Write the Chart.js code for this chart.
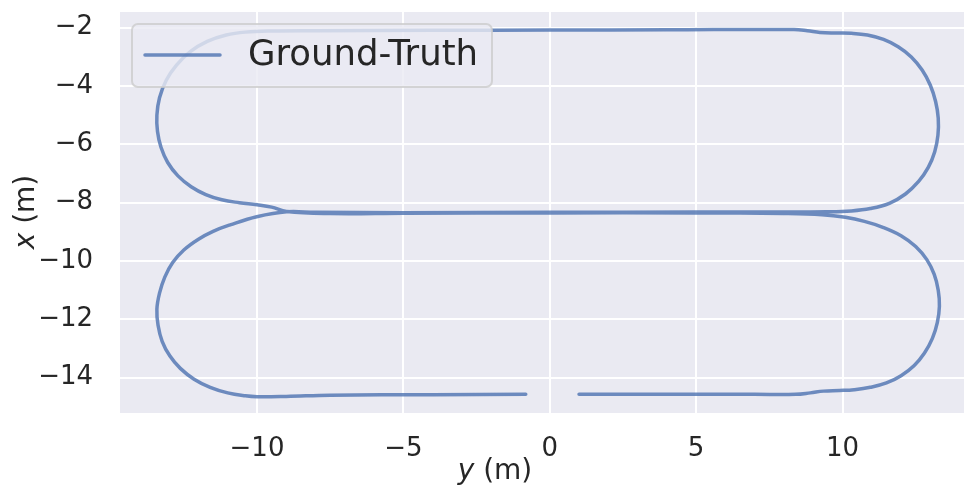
<!DOCTYPE html>
<html>
<head>
<meta charset="utf-8">
<script src="https://cdn.jsdelivr.net/npm/chart.js@4.4.1/dist/chart.umd.min.js"></script>
<style>
    html, body { margin: 0; padding: 0; background: #ffffff; }
    canvas { display: block; }
</style>
</head>
<body>
<canvas id="trajectory-chart" width="964" height="486"></canvas>
<script>
// Trajectoire vérité terrain, valeurs lues sur la figure
// gtY : axe horizontal "y (m)", gtX : axe vertical "x (m)"
const gtY = [
    // bas droite puis boucle droite inférieure
    1.0, 3.0, 5.0, 7.0, 8.4, 8.9, 9.35, 9.9, 10.4, 10.95, 11.5, 12.0, 12.45, 12.8, 13.07,
    13.24, 13.31, 13.27, 13.13, 12.88, 12.5, 12.0, 11.4, 10.75, 10.1, 9.3, 8.0,
    // ligne centrale vers la gauche
    5.0, 0.0, -5.0, -7.5, -8.99,
    // boucle gauche supérieure puis ligne du haut
    -9.5, -10.0, -10.6, -11.2, -11.75, -12.25, -12.7, -13.05, -13.28, -13.4,
    -13.42, -13.33, -13.1, -12.75, -12.28, -11.7, -11.05, -10.4, -9.5, -8.0,
    -4.0, 0.0, 4.0, 8.34,
    // boucle droite supérieure
    8.8, 9.23, 9.8, 10.3, 10.85, 11.4, 11.9, 12.35, 12.72, 13.0, 13.18,
    13.27, 13.26, 13.15, 12.93, 12.6, 12.15, 11.6, 10.95, 10.3, 9.46, 8.0,
    // ligne centrale vers la gauche
    5.0, 0.0, -5.0, -8.0, -8.99,
    // boucle gauche inférieure puis ligne du bas
    -10.01, -10.92, -11.5, -12.0, -12.5, -12.88, -13.15, -13.33, -13.42, -13.38, -13.24,
    -12.98, -12.62, -12.15, -11.6, -11.0, -10.4, -10.0, -9.0, -7.5, -4.0, -0.82
];
const gtX = [
    -14.57, -14.57, -14.57, -14.57, -14.57, -14.52, -14.46, -14.44, -14.41, -14.33, -14.18, -13.93, -13.58, -13.15, -12.65,
    -12.1, -11.55, -11.0, -10.45, -9.95, -9.5, -9.13, -8.85, -8.64, -8.5, -8.41, -8.37,
    -8.35, -8.35, -8.36, -8.37, -8.3,
    -8.15, -8.07, -8.0, -7.9, -7.72, -7.45, -7.08, -6.62, -6.1, -5.55,
    -5.0, -4.4, -3.8, -3.28, -2.82, -2.47, -2.25, -2.15, -2.11, -2.1,
    -2.09, -2.08, -2.07, -2.06,
    -2.1, -2.16, -2.18, -2.19, -2.25, -2.4, -2.65, -3.0, -3.45, -3.97, -4.53,
    -5.1, -5.68, -6.25, -6.79, -7.27, -7.7, -8.02, -8.2, -8.28, -8.31, -8.32,
    -8.32, -8.33, -8.34, -8.33, -8.31,
    -8.48, -8.76, -8.98, -9.25, -9.62, -10.05, -10.55, -11.1, -11.65, -12.2, -12.75,
    -13.25, -13.68, -14.05, -14.33, -14.52, -14.62, -14.65, -14.64, -14.6, -14.58, -14.57
];

const xTicks = [-10, -5, 0, 5, 10];
const yTicks = [-14, -12, -10, -8, -6, -4, -2];
const xRange = [-14.68, 14.15];
const yRange = [-15.21, -1.46];
const seriesLabel = 'Ground-Truth';

const TEXT_COLOR = '#262626';
const FONT = '"DejaVu Sans"';
const LINE_COLOR = 'rgba(76, 114, 176, 0.8)';

function formatTick(value) {
    return String(value).replace('-', '\u2212');
}

// Fond gris du graphique (style seaborn)
const plotBackground = {
    id: 'plotBackground',
    beforeDraw(chart) {
        const { ctx, chartArea } = chart;
        ctx.save();
        ctx.fillStyle = '#EAEAF2';
        ctx.fillRect(chartArea.left, chartArea.top, chartArea.right - chartArea.left, chartArea.bottom - chartArea.top);
        ctx.restore();
    }
};

// Titre d'axe avec la lettre en italique
function drawMathLabel(ctx, sym, rest, x, y, angle) {
    ctx.save();
    ctx.translate(x, y);
    ctx.rotate(angle);
    ctx.textBaseline = 'alphabetic';
    ctx.textAlign = 'left';
    ctx.font = 'italic 28px ' + FONT;
    const w1 = ctx.measureText(sym).width;
    ctx.font = '28px ' + FONT;
    const w2 = ctx.measureText(rest).width;
    const start = -(w1 + w2) / 2;
    ctx.font = 'italic 28px ' + FONT;
    ctx.fillText(sym, start, 0);
    ctx.font = '28px ' + FONT;
    ctx.fillText(rest, start + w1, 0);
    ctx.restore();
}

const axisTitles = {
    id: 'axisTitles',
    afterDraw(chart) {
        const ctx = chart.ctx;
        ctx.save();
        ctx.fillStyle = TEXT_COLOR;
        drawMathLabel(ctx, 'y', ' (m)', 495, 479, 0);
        drawMathLabel(ctx, 'x', ' (m)', 34, 212, -Math.PI / 2);
        ctx.restore();
    }
};

// Légende encadrée dans le coin haut gauche
const legendBox = {
    id: 'legendBox',
    afterDraw(chart) {
        const { ctx, chartArea } = chart;
        const ds = chart.data.datasets[0];
        const left = chartArea.left + 12;
        const top = chartArea.top + 12;
        const midY = top + 31;
        ctx.save();
        ctx.beginPath();
        ctx.roundRect(left, top, 360, 63, 6);
        ctx.fillStyle = 'rgba(234, 234, 242, 0.8)';
        ctx.fill();
        ctx.strokeStyle = 'rgba(204, 204, 204, 0.8)';
        ctx.lineWidth = 2;
        ctx.stroke();

        ctx.beginPath();
        ctx.moveTo(left + 13, midY);
        ctx.lineTo(left + 88, midY);
        ctx.strokeStyle = ds.borderColor;
        ctx.lineWidth = ds.borderWidth;
        ctx.lineCap = 'round';
        ctx.stroke();

        ctx.fillStyle = TEXT_COLOR;
        ctx.font = '35.5px ' + FONT;
        ctx.textAlign = 'left';
        ctx.textBaseline = 'middle';
        ctx.fillText(ds.label, left + 116, midY + 1);
        ctx.restore();
    }
};

const points = gtY.map((v, i) => ({ x: v, y: gtX[i] }));

const ctx = document.getElementById('trajectory-chart').getContext('2d');
const trajectoryChart = new Chart(ctx, {
    type: 'line',
    data: {
        datasets: [{
            label: seriesLabel,
            data: points,
            borderColor: LINE_COLOR,
            borderWidth: 3.5,
            borderCapStyle: 'round',
            borderJoinStyle: 'round',
            pointRadius: 0,
            tension: 0.4,
            fill: false
        }]
    },
    options: {
        responsive: false,
        animation: false,
        devicePixelRatio: 1,
        layout: {
            padding: { top: 12, right: 0, bottom: 0, left: 0 }
        },
        plugins: {
            legend: { display: false },
            tooltip: { enabled: false }
        },
        scales: {
            x: {
                type: 'linear',
                min: xRange[0],
                max: xRange[1],
                afterBuildTicks: scale => { scale.ticks = xTicks.map(v => ({ value: v })); },
                afterFit: scale => {
                    scale.height = 73;
                    scale.paddingLeft = 0;
                    scale.paddingRight = 0;
                },
                border: { display: false },
                grid: { color: '#ffffff', lineWidth: 2, drawTicks: false },
                ticks: {
                    color: TEXT_COLOR,
                    font: { family: 'DejaVu Sans', size: 26 },
                    padding: 21,
                    maxRotation: 0,
                    callback: formatTick
                }
            },
            y: {
                type: 'linear',
                min: yRange[0],
                max: yRange[1],
                afterBuildTicks: scale => { scale.ticks = yTicks.map(v => ({ value: v })); },
                afterFit: scale => {
                    scale.width = 120;
                    scale.paddingTop = 0;
                    scale.paddingBottom = 0;
                },
                border: { display: false },
                grid: { color: '#ffffff', lineWidth: 2, drawTicks: false },
                ticks: {
                    color: TEXT_COLOR,
                    font: { family: 'DejaVu Sans', size: 26 },
                    padding: 27,
                    callback: formatTick
                }
            }
        }
    },
    plugins: [plotBackground, axisTitles, legendBox]
});
</script>
</body>
</html>
